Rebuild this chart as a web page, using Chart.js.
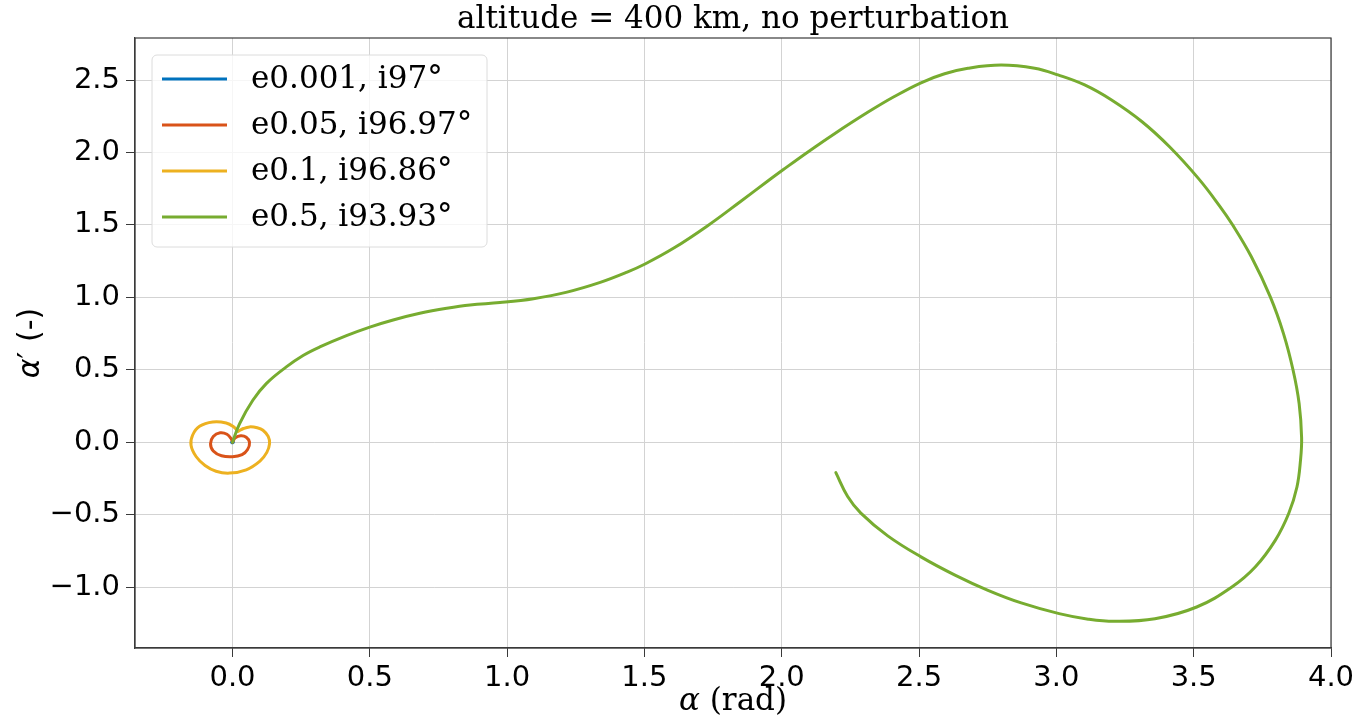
<!DOCTYPE html>
<html>
<head>
<meta charset="utf-8">
<script src="https://cdn.jsdelivr.net/npm/chart.js@4.4.1/dist/chart.umd.min.js"></script>
<style>
  html, body { margin: 0; padding: 0; background: #fff; }
  #wrap { width: 1363px; height: 719px; }
</style>
</head>
<body>
<div id="wrap"><canvas id="phaseChart" width="1363" height="719"></canvas></div>
<script>
// series labels and colours
const seriesLabels = ["e0.001, i97°", "e0.05, i96.97°", "e0.1, i96.86°", "e0.5, i93.93°"];
const seriesColors = ["#0072BD", "#D95319", "#EDB120", "#77AC30"];

// e0.001 - tiny loop at the origin
const blueX = [0, 0.003, 0.002, -0.003, -0.002, 0];
const blueY = [0, 0.002, -0.003, -0.002, 0.002, 0];

// e0.05
const redX = [0, 0.01, 0.03, 0.05, 0.062, 0.055, 0.035, 0, -0.04, -0.07, -0.08, -0.07, -0.045, -0.02, -0.005, 0];
const redY = [0, 0.03, 0.045, 0.035, 0.0, -0.05, -0.085, -0.1, -0.093, -0.06, -0.01, 0.04, 0.065, 0.055, 0.025, 0];

// e0.1
const yellowX = [0.02, 0.04, 0.062, 0.09, 0.111, 0.13, 0.135, 0.125, 0.1, 0.05, -0.011, -0.06, -0.1, -0.132, -0.151, -0.145, -0.12, -0.072, -0.023, 0.005, 0.02];
const yellowY = [0.075, 0.095, 0.106, 0.1, 0.083, 0.04, -0.01, -0.07, -0.13, -0.19, -0.213, -0.2, -0.16, -0.1, -0.02, 0.05, 0.11, 0.14, 0.133, 0.105, 0.075];

// e0.5
const greenX = [0, 0.026, 0.074, 0.123, 0.196, 0.257, 0.318, 0.415, 0.5, 0.585, 0.682, 0.78, 0.865, 0.974, 1.096, 1.218, 1.339, 1.437, 1.504,
  1.607, 1.729, 1.85, 1.948, 2.006, 2.094, 2.191, 2.313, 2.41, 2.507, 2.593, 2.678, 2.799, 2.921, 3.006, 3.103, 3.201, 3.312, 3.412, 3.517,
  3.592, 3.642, 3.71, 3.779, 3.827, 3.862, 3.884, 3.893, 3.889, 3.876, 3.846, 3.797, 3.724, 3.639, 3.511, 3.359, 3.213, 3.116, 3.01, 2.872,
  2.751, 2.629, 2.507, 2.386, 2.288, 2.24, 2.197];
const greenY = [0, 0.129, 0.29, 0.405, 0.52, 0.599, 0.658, 0.736, 0.795, 0.844, 0.89, 0.925, 0.948, 0.964, 0.991, 1.036, 1.103, 1.174, 1.232,
  1.34, 1.493, 1.662, 1.801, 1.882, 2.002, 2.128, 2.277, 2.386, 2.481, 2.543, 2.581, 2.603, 2.581, 2.535, 2.466, 2.362, 2.212, 2.039, 1.821,
  1.637, 1.499, 1.28, 1.003, 0.75, 0.497, 0.267, 0.03, -0.124, -0.309, -0.492, -0.677, -0.861, -0.999, -1.137, -1.218, -1.236, -1.221, -1.183, -1.109,
  -1.022, -0.915, -0.791, -0.646, -0.489, -0.374, -0.21];

const xTicks = [0, 0.5, 1.0, 1.5, 2.0, 2.5, 3.0, 3.5, 4.0];
const yTicks = [-1.0, -0.5, 0, 0.5, 1.0, 1.5, 2.0, 2.5];

const titleText = "altitude = 400 km, no perturbation";
const xTitleSym = "α", xTitleRest = " (rad)";
const yTitleSym = "α", yTitleRest = "′ (-)";

function toPoints(xs, ys) {
    return xs.map((x, i) => ({ x: x, y: ys[i] }));
}

const allX = [blueX, redX, yellowX, greenX];
const allY = [blueY, redY, yellowY, greenY];

const datasets = seriesLabels.map((label, i) => ({
    label: label,
    data: toPoints(allX[i], allY[i]),
    borderColor: seriesColors[i],
    backgroundColor: seriesColors[i],
    borderWidth: 3,
    showLine: true,
    pointRadius: 0,
    tension: 0.4,
    borderCapStyle: "round",
    borderJoinStyle: "round",
    order: 3 - i
}));

const fmt = v => (v < 0 ? "\u2212" : "") + Math.abs(v).toFixed(1);

// draws "sym rest" centred on (0,0) of the current transform
function mixedText(ctx, symFont, restFont, sym, rest) {
    ctx.font = symFont;
    const w1 = ctx.measureText(sym).width;
    ctx.font = restFont;
    const w2 = ctx.measureText(rest).width;
    const x0 = -(w1 + w2) / 2;
    ctx.textAlign = "left";
    ctx.textBaseline = "middle";
    ctx.font = symFont;
    ctx.fillText(sym, x0, 0);
    ctx.font = restFont;
    ctx.fillText(rest, x0 + w1, 0);
}

// title, axis labels, frame and legend drawn inside the canvas
const extras = {
    id: "extras",
    afterDraw(chart) {
        const ctx = chart.ctx;
        const a = chart.chartArea;
        const cx = (a.left + a.right) / 2;
        const cy = (a.top + a.bottom) / 2;
        ctx.save();
        ctx.strokeStyle = "#3a3a3a";
        ctx.lineWidth = 1.2;
        ctx.strokeRect(a.left, a.top, a.right - a.left, a.bottom - a.top);

        ctx.fillStyle = "#000";
        ctx.font = "31px 'DejaVu Serif'";
        ctx.textAlign = "center";
        ctx.textBaseline = "middle";
        ctx.fillText(titleText, cx, 20);

        // x axis label
        ctx.save();
        ctx.translate(cx, 702);
        mixedText(ctx, "italic 31px 'DejaVu Serif'", "31px 'DejaVu Serif'", xTitleSym, xTitleRest);
        ctx.restore();

        // y axis label
        ctx.save();
        ctx.translate(31, cy);
        ctx.rotate(-Math.PI / 2);
        mixedText(ctx, "oblique 30px 'DejaVu Sans'", "30px 'DejaVu Sans'", yTitleSym, yTitleRest);
        ctx.restore();

        // legend box
        const bx = 152, by = 55, bw = 335, bh = 192;
        ctx.fillStyle = "rgba(255,255,255,0.8)";
        ctx.strokeStyle = "#dcdcdc";
        ctx.lineWidth = 1;
        ctx.beginPath();
        ctx.roundRect(bx, by, bw, bh, 5);
        ctx.fill();
        ctx.stroke();

        ctx.textAlign = "left";
        ctx.textBaseline = "middle";
        ctx.font = "31px 'DejaVu Serif'";
        seriesLabels.forEach((label, i) => {
            const y = 79 + i * 46;
            ctx.strokeStyle = seriesColors[i];
            ctx.lineWidth = 3;
            ctx.beginPath();
            ctx.moveTo(162, y);
            ctx.lineTo(227, y);
            ctx.stroke();
            ctx.fillStyle = "#000";
            ctx.fillText(label, 251, y + 1);
        });
        ctx.restore();
    }
};

const axisGrid = {
    color: "#d3d3d3",
    lineWidth: 1,
    tickColor: "#3a3a3a",
    tickLength: 9,
    drawTicks: true
};

new Chart(document.getElementById("phaseChart").getContext("2d"), {
    type: "scatter",
    data: { datasets: datasets },
    options: {
        responsive: false,
        animation: false,
        devicePixelRatio: 1,
        layout: { padding: { top: 38, right: 32, left: 0, bottom: 0 } },
        plugins: {
            legend: { display: false },
            tooltip: { enabled: false }
        },
        scales: {
            x: {
                type: "linear",
                min: -0.355,
                max: 4.0,
                afterBuildTicks: scale => { scale.ticks = xTicks.map(v => ({ value: v })); },
                afterFit: scale => { scale.height = 71; },
                grid: axisGrid,
                border: { display: true, color: "#3a3a3a", width: 1.2 },
                ticks: {
                    color: "#000",
                    padding: 4,
                    maxRotation: 0,
                    font: { family: "DejaVu Sans", size: 29 },
                    callback: v => fmt(v)
                }
            },
            y: {
                type: "linear",
                min: -1.42,
                max: 2.79,
                afterBuildTicks: scale => { scale.ticks = yTicks.map(v => ({ value: v })); },
                afterFit: scale => { scale.width = 135; },
                grid: axisGrid,
                border: { display: true, color: "#3a3a3a", width: 1.2 },
                ticks: {
                    color: "#000",
                    padding: 6,
                    font: { family: "DejaVu Sans", size: 29 },
                    callback: v => fmt(v)
                }
            }
        }
    },
    plugins: [extras]
});
</script>
</body>
</html>
